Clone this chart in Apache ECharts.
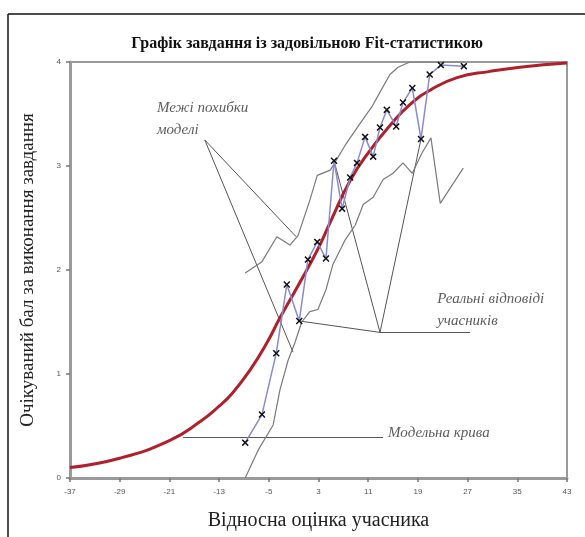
<!DOCTYPE html>
<html><head><meta charset="utf-8">
<script src="https://cdn.jsdelivr.net/npm/echarts@6/dist/echarts.min.js"></script>
<style>html,body{margin:0;padding:0;background:#fff}#c{width:585px;height:537px}</style>
</head><body><div id="c"></div>
<script>
// ---- data ----
const xTicks = [-37, -29, -21, -13, -5, 3, 11, 19, 27, 35, 43];
const yTicks = [0, 1, 2, 3, 4];

// model curve
const modelX = [-37, -29, -21, -16.1, -13, -10.8, -8.0, -5.3, -3.2, 0.0, 2.8, 4.9, 8.1, 11.3, 14.5, 17.7, 21.0, 25.3, 30.6, 35.4, 43];
const modelY = [0.10, 0.19, 0.36, 0.54, 0.69, 0.82, 1.04, 1.30, 1.54, 1.88, 2.19, 2.46, 2.86, 3.15, 3.39, 3.59, 3.73, 3.85, 3.91, 3.95, 3.99];

// observed answers
const obsX = [-8.8, -6.1, -3.8, -2.1, -0.1, 1.3, 2.8, 4.2, 5.5, 6.8, 8.1, 9.2, 10.5, 11.8, 12.9, 14.0, 15.5, 16.6, 18.1, 19.5, 20.9, 22.7, 26.4];
const obsY = [0.34, 0.61, 1.20, 1.86, 1.51, 2.10, 2.27, 2.11, 3.05, 2.59, 2.89, 3.03, 3.28, 3.09, 3.37, 3.54, 3.38, 3.61, 3.75, 3.26, 3.88, 3.97, 3.96];

// model error bounds
const upperX = [-8.8, -6.1, -3.7, -1.6, -0.3, 1.6, 2.8, 4.9, 7.3, 9.7, 11.6, 12.9, 14.5, 15.8, 17.7, 26.6];
const upperY = [1.97, 2.08, 2.32, 2.24, 2.33, 2.67, 2.91, 2.96, 3.20, 3.41, 3.57, 3.71, 3.88, 3.95, 4.0, 4.0];
const lowerX = [-8.8, -6.7, -4.3, -3.2, -1.9, -0.8, 0.3, 1.6, 2.9, 4.2, 5.3, 7.3, 8.9, 10.2, 11.8, 13.4, 15.0, 16.6, 18.1, 19.7, 21.1, 22.6, 26.3];
const lowerY = [0.0, 0.27, 0.51, 0.85, 1.13, 1.30, 1.50, 1.60, 1.62, 1.81, 2.05, 2.29, 2.43, 2.63, 2.70, 2.87, 2.93, 3.03, 2.93, 3.13, 3.27, 2.64, 2.98];

// annotation pointers (data coords)
const pointerLines = [
  [[-15.3, 3.25], [-0.6, 2.32]],
  [[-15.3, 3.25], [-1.1, 1.21]],
  [[12.9, 1.40], [-0.1, 1.51]],
  [[12.9, 1.40], [5.5, 3.05]],
  [[12.9, 1.40], [19.5, 3.26]],
  [[12.9, 1.40], [27.4, 1.40]],
  [[-18.8, 0.39], [13.4, 0.39]]
];
const labelTexts = ['Межі похибки\nмоделі', 'Реальні відповіді\nучасників', 'Модельна крива'];
const labelX = [-23.0, 22.1, 14.2];
const labelY = [3.45, 1.61, 0.43];

const title = 'Графік завдання із задовільною Fit-статистикою';
const xName = 'Відносна оцінка учасника';
const yName = 'Очікуваний бал за виконання завдання';

// ---- chart ----
const zip = (a, b) => a.map((v, i) => [v, b[i]]);
const chart = echarts.init(document.getElementById('c'), null, {renderer: 'canvas'});
const serif = '"Liberation Serif", "DejaVu Serif", serif';
const xMark = 'path://M0,1.5L1.5,0L5,3.5L8.5,0L10,1.5L6.5,5L10,8.5L8.5,10L5,6.5L1.5,10L0,8.5L3.5,5Z';

chart.setOption({
  animation: false,
  backgroundColor: '#fff',
  title: {
    text: title, left: 302, top: 31, textAlign: 'center',
    textStyle: {fontFamily: serif, fontWeight: 'bold', fontSize: 16, color: '#111'}
  },
  graphic: [
    {type: 'line', shape: {x1: 8, y1: 14, x2: 585, y2: 14}, style: {stroke: '#111', lineWidth: 1.5}},
    {type: 'line', shape: {x1: 8, y1: 14, x2: 8, y2: 537}, style: {stroke: '#111', lineWidth: 1.5}}
  ],
  grid: {left: 70, right: 18, top: 62, bottom: 59, show: true, borderColor: '#9a9a9a', borderWidth: 2, backgroundColor: '#fff'},
  xAxis: {
    type: 'value', min: xTicks[0], max: xTicks[xTicks.length - 1],
    name: xName, nameLocation: 'middle', nameGap: 33,
    nameTextStyle: {fontFamily: serif, fontSize: 20, color: '#222'},
    axisLine: {show: true, onZero: false, lineStyle: {color: '#9a9a9a', width: 3}},
    axisTick: {show: true, length: 4, customValues: xTicks, lineStyle: {color: '#777', width: 1.5}},
    axisLabel: {customValues: xTicks, fontSize: 8, color: '#555', margin: 10, fontFamily: 'Liberation Sans'},
    splitLine: {show: false}
  },
  yAxis: {
    type: 'value', min: yTicks[0], max: yTicks[yTicks.length - 1], interval: 1,
    name: yName, nameLocation: 'middle', nameGap: 32, nameRotate: 90,
    nameTextStyle: {fontFamily: serif, fontSize: 19, color: '#222'},
    axisLine: {show: true, onZero: false, lineStyle: {color: '#9a9a9a', width: 3}},
    axisTick: {show: true, length: 4, lineStyle: {color: '#777', width: 1.5}},
    axisLabel: {fontSize: 8, color: '#555', margin: 9, fontFamily: 'Liberation Sans'},
    splitLine: {show: false}
  },
  series: [
    {type: 'lines', coordinateSystem: 'cartesian2d', silent: true, z: 1,
     lineStyle: {color: '#555', width: 1, opacity: 1},
     data: pointerLines.map(c => ({coords: c}))},
    {type: 'line', data: zip(upperX, upperY), showSymbol: false, symbol: 'none', z: 2,
     lineStyle: {color: '#7a7a7a', width: 1.2}},
    {type: 'line', data: zip(lowerX, lowerY), showSymbol: false, symbol: 'none', z: 2,
     lineStyle: {color: '#7a7a7a', width: 1.2}},
    {type: 'line', data: zip(modelX, modelY), smooth: true, symbol: 'none', z: 3,
     lineStyle: {color: '#b0202a', width: 3}},
    {type: 'line', data: zip(obsX, obsY), symbol: xMark, symbolSize: 7, z: 4,
     lineStyle: {color: '#8a8ad0', width: 1.5},
     itemStyle: {color: '#111'}},
    {type: 'scatter', symbolSize: 0, z: 5, silent: true,
     data: labelTexts.map((t, i) => ({value: [labelX[i], labelY[i]], name: t})),
     label: {show: true, position: 'right', distance: 0, formatter: p => p.name,
       fontFamily: serif, fontStyle: 'italic', fontSize: 15, lineHeight: 22, color: '#333'}}
  ]
});
</script></body></html>
